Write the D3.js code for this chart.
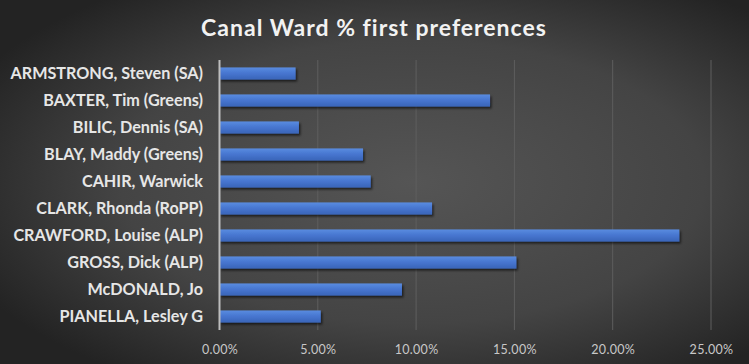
<!DOCTYPE html>
<html><head><meta charset="utf-8">
<script src="https://cdn.jsdelivr.net/npm/d3@7"></script>
<style>body{margin:0;background:#333}svg{display:block}</style>
</head><body>
<script>
const candidates = ["ARMSTRONG, Steven (SA)","BAXTER, Tim (Greens)","BILIC, Dennis (SA)","BLAY, Maddy (Greens)","CAHIR, Warwick","CLARK, Rhonda (RoPP)","CRAWFORD, Louise (ALP)","GROSS, Dick (ALP)","McDONALD, Jo","PIANELLA, Lesley G"];
const shares = [0.0387,0.1376,0.0404,0.0730,0.0769,0.1081,0.2339,0.1510,0.0928,0.0515];
const tickValues = [0,0.05,0.10,0.15,0.20,0.25];
const title = "Canal Ward % first preferences";

const W=749,H=364;
const svg=d3.select("body").append("svg").attr("width",W).attr("height",H);
const defs=svg.append("defs");
const bg=defs.append("radialGradient").attr("id","bg").attr("cx","55%").attr("cy","50%").attr("r","65%");
bg.append("stop").attr("offset","0%").attr("stop-color","#555555");
bg.append("stop").attr("offset","60%").attr("stop-color","#444444");
bg.append("stop").attr("offset","100%").attr("stop-color","#232323");
const bar=defs.append("linearGradient").attr("id","bar").attr("x1",0).attr("y1",0).attr("x2",0).attr("y2",1);
bar.append("stop").attr("offset","0%").attr("stop-color","#5a8ce0");
bar.append("stop").attr("offset","50%").attr("stop-color","#4675cf");
bar.append("stop").attr("offset","100%").attr("stop-color","#3a64b8");
const sh=defs.append("filter").attr("id","sh").attr("x","-5%").attr("y","-50%").attr("width","115%").attr("height","220%");
sh.append("feDropShadow").attr("dx",1.5).attr("dy",2).attr("stdDeviation",1.2).attr("flood-color","#000").attr("flood-opacity",0.6);

svg.append("rect").attr("width",W).attr("height",H).attr("fill","url(#bg)");

const x=d3.scaleLinear().domain([0,0.25]).range([219.5,711]);
const y=d3.scaleBand().domain(candidates).range([60,330]).paddingInner(0.55).paddingOuter(0.275);

svg.append("text").attr("x",374).attr("y",36).attr("text-anchor","middle")
  .attr("font-family","Lato, 'Open Sans', sans-serif").attr("font-weight","bold").attr("font-size",23)
  .attr("fill","#f2f2f2").style("letter-spacing","1px").text(title);

// gridlines
svg.append("g").selectAll("line").data(tickValues.slice(1)).join("line")
  .attr("x1",d=>x(d)).attr("x2",d=>x(d)).attr("y1",60).attr("y2",330)
  .attr("stroke","#5e5e5e").attr("stroke-width",1);

// bars
svg.append("g").selectAll("rect").data(candidates).join("rect")
  .attr("x",x(0)).attr("y",d=>y(d)).attr("height",y.bandwidth())
  .attr("width",(d,i)=>x(shares[i])-x(0))
  .attr("fill","url(#bar)").attr("filter","url(#sh)");

// x axis labels
const xa=d3.axisBottom(x).tickValues(tickValues).tickFormat(d3.format(".2%")).tickSize(0).tickPadding(0);
const gx=svg.append("g").attr("transform","translate(0,343)").call(xa);
gx.select(".domain").remove();
gx.selectAll("text").attr("font-family","Lato, 'Open Sans', sans-serif").attr("font-size",12.5).attr("fill","#c8c8c8").attr("dy","0.85em").style("letter-spacing","0.3px");

// y axis
const ya=d3.axisLeft(y).tickSize(0).tickPadding(16.5);
const gy=svg.append("g").attr("transform",`translate(${x(0)},0)`).call(ya);
gy.select(".domain").remove();
gy.selectAll("text").attr("font-family","Lato, 'Open Sans', sans-serif").attr("font-weight","bold").attr("font-size",16.2).attr("fill","#e6e6e6");
svg.append("line").attr("x1",x(0)).attr("x2",x(0)).attr("y1",60).attr("y2",330).attr("stroke","#bdbdbd").attr("stroke-width",2);
</script>
</body></html>
